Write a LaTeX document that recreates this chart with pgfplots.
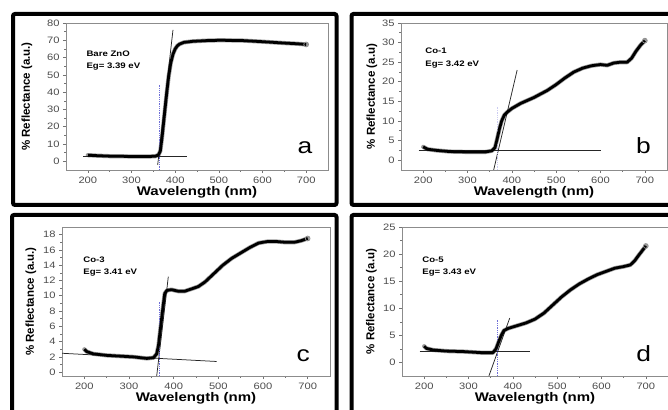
\documentclass[border=0pt]{standalone}
\usepackage{fontspec}
\setmainfont[FakeStretch=1.2]{Liberation Sans}
\newfontfamily\ylabfont{Liberation Sans}
\usepackage{pgfplots}
\pgfplotsset{compat=1.18}

\definecolor{guideblue}{RGB}{110,110,215}

\pgfplotsset{
  panel/.style={
    scale only axis,
    xmin=150, xmax=750, xtick={200,300,...,700},
    minor x tick num=1, minor y tick num=1,
    xtick pos=bottom, ytick pos=left,
    tick align=outside, major tick length=3pt, minor tick length=1.8pt,
    axis line style={black!45},
    tick style={black!55, line width=0.6pt},
    tick label style={font=\fontsize{9.3}{11}\selectfont, text=black!70},
    /pgf/number format/assume math mode=true,
    xlabel={Wavelength (nm)},
    xlabel style={font=\fontsize{12.5}{14}\selectfont\bfseries,
      at={(axis description cs:0.5,-0.15)}, anchor=center},
    ylabel style={font=\ylabfont\fontsize{11.5}{13}\selectfont\bfseries, anchor=center},
  },
  halo/.style={black!40, line width=4.2pt, line join=round, line cap=round},
  curve/.style={black, line width=2.8pt, line join=round},
  endmark/.style={only marks, mark=o, mark size=2.4pt, black!45, line width=0.8pt},
  fit/.style={black!85, line width=0.75pt},
  guide/.style={guideblue, densely dotted, line width=0.8pt},
}
\tikzset{
  inset/.style={font=\fontsize{8}{12.5}\selectfont\bfseries, anchor=north west, align=left},
  letter/.style={font=\fontsize{22}{24}\selectfont, anchor=center},
}

\begin{document}
\begin{tikzpicture}
\path[use as bounding box, clip] (0,0) rectangle (668pt,409pt);

% panel frames
\draw[line width=4pt, rounded corners=2pt] (13pt,395pt) rectangle (336.5pt,204pt);
\draw[line width=4pt, rounded corners=2pt] (351.5pt,395pt) rectangle (690pt,204pt);
\draw[line width=4pt, rounded corners=2pt] (12pt,194pt) rectangle (336.5pt,-20pt);
\draw[line width=4pt, rounded corners=2pt] (351.5pt,194pt) rectangle (690pt,-20pt);

% (a) bare ZnO
\pgfplotstableread{
x y
200 3.6
220 3.3
250 3.0
280 2.9
310 2.8
340 2.8
355 3.0
362 3.8
366 6
370 14
375 26
380 38
385 49
390 57
395 62
400 65
405 66.8
410 67.8
420 68.8
440 69.4
470 69.8
500 70
550 69.9
600 69.2
650 68.4
680 68
700 67.6
}\dataA
\begin{axis}[panel, at={(66pt,239pt)}, anchor=south west,
  width=262pt, height=147pt,
  ymin=-5, ymax=80, ytick={0,10,...,80},
  ylabel={\% Reflectance (a.u.)},
  ylabel style={at={(axis description cs:-0.149,0.5)}}]
\addplot[halo] table {\dataA};
\addplot[fit] coordinates {(190,3) (428,3)};
\addplot[fit] coordinates {(360,-2) (395,76)};
\addplot[guide] coordinates {(365,-5) (365,44)};
\addplot[curve] table {\dataA};
\addplot[endmark] coordinates {(700,67.6)};
\node[inset] at (axis cs:189,66) {Bare ZnO\\Eg= 3.39 eV};
\node[letter] at (axis cs:697,8) {a};
\end{axis}

% (b) Co-1
\pgfplotstableread{
x y
200 3.4
210 2.8
230 2.5
260 2.2
300 2.1
340 2.1
355 2.4
362 3.2
367 5.5
372 8
377 10
383 11.5
390 12.3
400 13.2
420 14.5
450 16
480 17.8
500 19.3
520 21
540 22.5
560 23.5
580 24.1
600 24.4
615 24.2
630 24.8
645 25
660 25
670 26
680 27.8
690 29.3
700 30.5
}\dataB
\begin{axis}[panel, at={(401pt,239pt)}, anchor=south west,
  width=266pt, height=147pt,
  ymin=-2.5, ymax=35, ytick={0,5,...,35},
  ylabel={\% Reflectance (a.u)},
  ylabel style={at={(axis description cs:-0.109,0.5)}}]
\addplot[halo] table {\dataB};
\addplot[fit] coordinates {(190,2.4) (600,2.4)};
\addplot[fit] coordinates {(359,-2.5) (412,23)};
\addplot[guide, guideblue!35] coordinates {(367,-2.5) (367,13.6)};
\addplot[curve] table {\dataB};
\addplot[endmark] coordinates {(700,30.5)};
\node[inset] at (axis cs:197,29.5) {Co-1\\Eg= 3.42 eV};
\node[letter] at (axis cs:697,3.6) {b};
\end{axis}

% (c) Co-3
\pgfplotstableread{
x y
200 3.0
205 2.7
220 2.4
250 2.2
280 2.1
310 2.0
340 1.8
355 1.9
362 2.4
366 3.5
370 5.5
375 8
380 10.3
385 10.7
395 10.8
410 10.6
425 10.6
440 10.9
455 11.2
470 11.8
490 12.9
510 14
530 14.9
550 15.6
570 16.3
590 16.9
610 17.1
630 17.1
650 17.0
670 17.0
685 17.2
700 17.5
}\dataC
\begin{axis}[panel, at={(62pt,33pt)}, anchor=south west,
  width=268pt, height=149pt,
  ymin=-0.5, ymax=19, ytick={0,2,...,18},
  ylabel={\% Reflectance (a.u.)},
  ylabel style={at={(axis description cs:-0.116,0.5)}}]
\addplot[halo] table {\dataC};
\addplot[fit] coordinates {(142,2.5) (496,1.4)};
\addplot[fit] coordinates {(362,-0.5) (388,12.5)};
\addplot[guide] coordinates {(368,-0.5) (368,9.2)};
\addplot[curve] table {\dataC};
\addplot[endmark] coordinates {(700,17.5)};
\node[inset] at (axis cs:190,15.6) {Co-3\\Eg= 3.41 eV};
\node[letter] at (axis cs:690,2.1) {c};
\end{axis}

% (d) Co-5
\pgfplotstableread{
x y
200 3.0
205 2.6
220 2.3
250 2.1
290 2.0
330 1.8
355 1.8
362 2.5
368 3.8
374 5.0
380 5.9
390 6.3
410 6.8
430 7.3
450 8.0
470 9.1
490 10.6
510 12.1
530 13.4
550 14.5
570 15.4
590 16.2
610 16.8
630 17.4
650 17.7
665 18.0
675 18.8
685 19.9
700 21.5
}\dataD
\begin{axis}[panel, at={(402pt,33pt)}, anchor=south west,
  width=266pt, height=149pt,
  ymin=-2.5, ymax=25, ytick={0,5,...,25},
  ylabel={\% Reflectance (a.u)},
  ylabel style={at={(axis description cs:-0.115,0.5)}}]
\addplot[halo] table {\dataD};
\addplot[fit] coordinates {(190,2.1) (438,2.1)};
\addplot[fit] coordinates {(346,-2.5) (393,8.2)};
\addplot[guide] coordinates {(365,-2.5) (365,7.9)};
\addplot[curve] table {\dataD};
\addplot[endmark] coordinates {(700,21.5)};
\node[inset] at (axis cs:188,20.2) {Co-5\\Eg= 3.43 eV};
\node[letter] at (axis cs:695,1.7) {d};
\end{axis}
\end{tikzpicture}
\end{document}
